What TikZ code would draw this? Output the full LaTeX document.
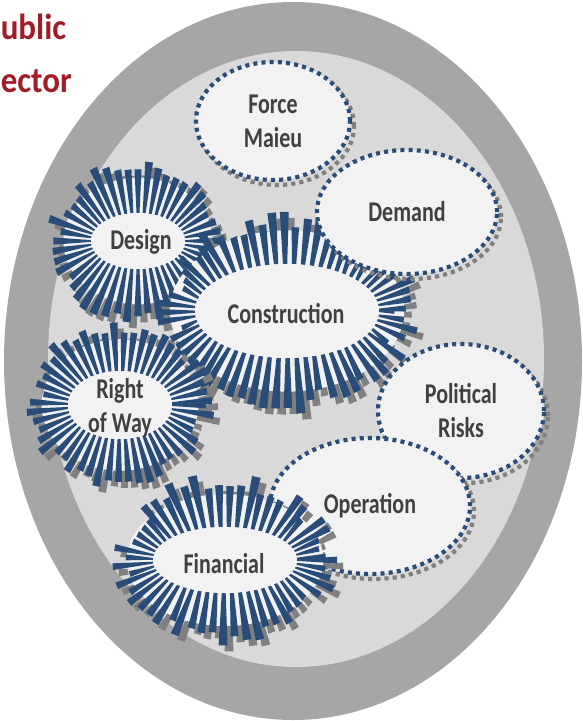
\documentclass[tikz,border=0pt]{standalone}
\usepackage{fontspec}
\setmainfont{Carlito}
\usepackage{graphicx}
\usepackage{xcolor}
\usepackage{tikz}
\usetikzlibrary{shapes.geometric}
\definecolor{rayblue}{RGB}{41,76,120}
\definecolor{raygray}{RGB}{128,128,128}
\definecolor{ringgray}{RGB}{166,166,166}
\definecolor{fieldgray}{RGB}{217,217,217}
\definecolor{ovalfill}{RGB}{242,242,242}
\definecolor{labelgray}{RGB}{64,64,64}
\definecolor{sectorred}{RGB}{160,28,38}
\newcommand{\labelfont}{\bfseries\fontsize{22}{34}\selectfont}
\newcommand{\titlefont}{\bfseries\fontsize{33}{40}\selectfont}
\newcommand{\tall}[1]{\scalebox{1}[1.3]{#1}}

% spiky ring: centre x, centre y, core radii, tip radii, ray step, seed
\newcommand{\burst}[8]{%
  \begin{scope}[shift={(#1,#2)}]
    \pgfmathsetmacro\raywd{0.35*#7}
    \pgfmathsetmacro\raybase{0.24*#7}
    \begin{scope}[shift={(6,6)}]
      \pgfmathsetseed{#8}
      \foreach \t in {0,#7,...,359}{
        \pgfmathsetmacro\fa{0.8+0.2*rnd}
        \fill[raygray] (\t-\raybase:#3 and #4) -- (\t-\raywd:\fa*#5 and \fa*#6) -- (\t+\raywd:\fa*#5 and \fa*#6) -- (\t+\raybase:#3 and #4) -- cycle;
      }
    \end{scope}
    \fill[ovalfill] (0,0) ellipse [x radius={#3+0.6*(#5-#3)}, y radius={#4+0.6*(#6-#4)}];
    \pgfmathsetseed{#8}
    \foreach \t in {0,#7,...,359}{
      \pgfmathsetmacro\fa{0.8+0.2*rnd}
      \fill[rayblue] (\t-\raybase:#3 and #4) -- (\t-\raywd:\fa*#5 and \fa*#6) -- (\t+\raywd:\fa*#5 and \fa*#6) -- (\t+\raybase:#3 and #4) -- cycle;
    }
    \fill[ovalfill] (0,0) ellipse [x radius=#3, y radius=#4];
  \end{scope}
}

\begin{document}
\begin{tikzpicture}[x=1pt, y=-1pt]
    \tikzstyle{riskoval} = [ellipse, inner sep=0pt, fill=ovalfill, draw=rayblue, line width=4.2pt, dash pattern=on 4pt off 4.2pt, align=center, text=labelgray, font=\labelfont,
        preaction={draw=raygray, line width=1.8pt, transform canvas={shift={(4pt,-5pt)}}},
        preaction={draw=raygray, line width=4.2pt, dash pattern=on 4pt off 4.2pt, transform canvas={shift={(4pt,-5pt)}}}]
    \tikzstyle{burstlabel} = [inner sep=0pt, align=center, text=labelgray, font=\labelfont]
    \tikzstyle{sectortitle} = [anchor=base west, inner sep=0pt, text=sectorred, font=\titlefont]

    \useasboundingbox (0,0) rectangle (582,721);

    % sector field
    \fill[ringgray] (293,361) ellipse [x radius=289, y radius=359];
    \fill[fieldgray] (296,359) ellipse [x radius=248, y radius=308];

    \node[sectortitle] (public) at (-17,39) {\scalebox{1}[1.1]{Public}};
    \node[sectortitle] (sector) at (-15,92) {\scalebox{1}[1.1]{Sector}};

    % risks
    \burst{138}{241}{47}{28}{93}{87}{7.5}{11}
    \node[burstlabel] (design) at (141,242) {\tall{Design}};

    \burst{287}{311}{92}{47}{134}{103}{5.6}{23}
    \node[burstlabel] (construction) at (286,314) {\tall{Construction}};

    \burst{120}{405}{52}{34}{96}{87}{7}{5}
    \node[burstlabel] (rightofway) at (120,408) {\tall{Right}\\\tall{of Way}};

    \node[riskoval, minimum width=154pt, minimum height=118pt] (force) at (273,121) {\tall{Force}\\\tall{Maieu}};
    \node[riskoval, minimum width=180pt, minimum height=124pt] (demand) at (407,212) {\tall{Demand}};
    \node[riskoval, minimum width=166pt, minimum height=134pt] (political) at (461,411) {\tall{Political}\\\tall{Risks}};
    \node[riskoval, minimum width=200pt, minimum height=136pt] (operation) at (370,506) {\tall{Operation}};

    \burst{225}{560}{72}{33}{116}{88}{6.5}{17}
    \node[burstlabel] (financial) at (224,564) {\tall{Financial}};
\end{tikzpicture}
\end{document}
